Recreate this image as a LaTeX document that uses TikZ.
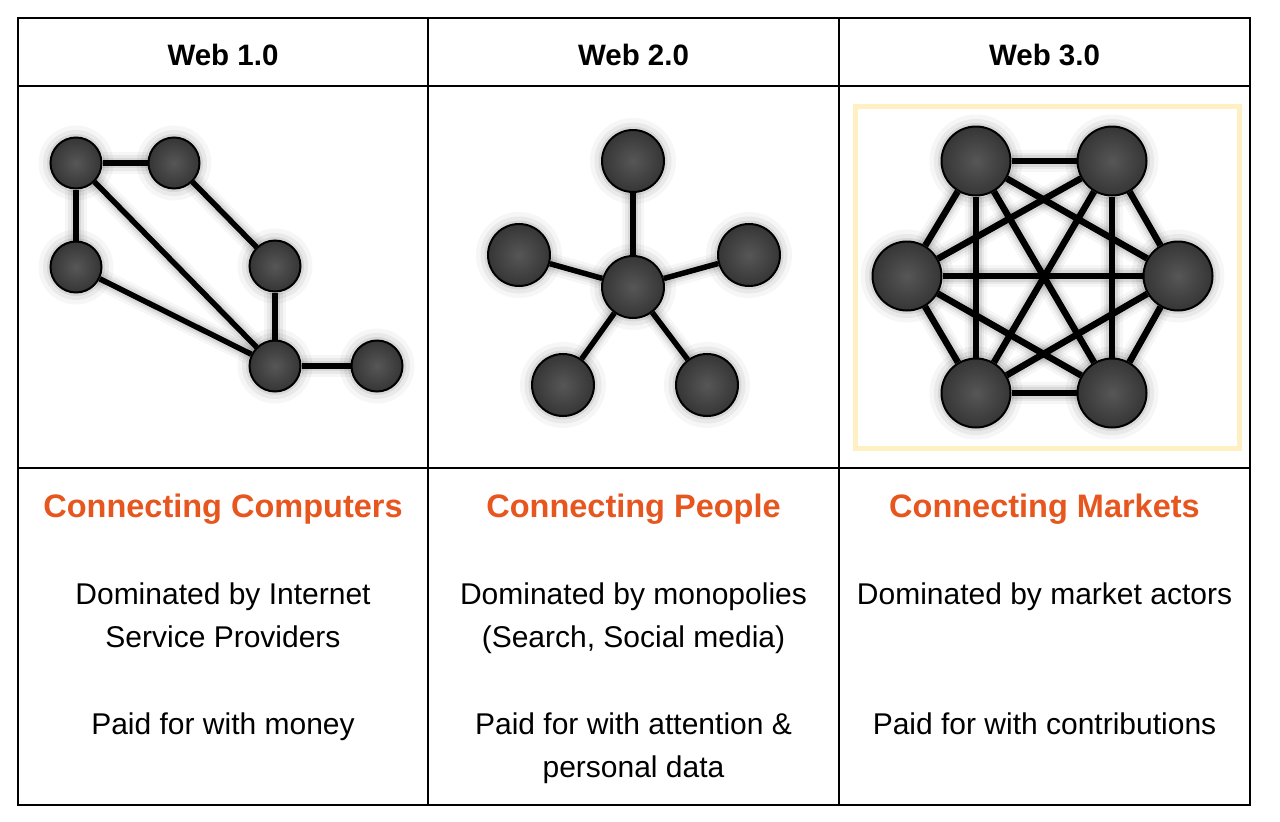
\documentclass[tikz,border=0pt]{standalone}
\usepackage{fontspec}
\setmainfont{Liberation Sans}
\pgfdeclarelayer{bottom}
\pgfdeclarelayer{background}
\pgfsetlayers{bottom,background,main}
\definecolor{orng}{RGB}{230,86,30}
\definecolor{paleyel}{RGB}{255,240,195}
\begin{document}
\begin{tikzpicture}[x=1pt,y=-1pt,
  nd/.style={circle,draw=black,line width=2pt,inner sep=0pt,minimum size=#1,inner color=black!66,outer color=black!79},
  ed/.style={line width=#1,black,
    preaction={draw,line width=#1+5pt,black,opacity=.07},
    preaction={draw,line width=#1+10pt,black,opacity=.05},
    preaction={draw,line width=#1+16pt,black,opacity=.035}},
  hd/.style={anchor=base,font=\fontsize{29.5}{34}\selectfont\bfseries},
  ttl/.style={anchor=base,text=orng,font=\fontsize{32.5}{38}\selectfont\bfseries},
  bd/.style={anchor=base,font=\fontsize{30}{36}\selectfont},
  grid/.style={line width=1.8pt,black}]
\useasboundingbox (0,0) rectangle (1280,822);
\begin{pgfonlayer}{bottom}
  \fill[white] (0,0) rectangle (1280,822);
\end{pgfonlayer}
% table
\draw[grid] (18,18) rectangle (1250,805);
\draw[grid] (428,18) -- (428,805);
\draw[grid] (839,18) -- (839,805);
\draw[grid] (18,86) -- (1250,86);
\draw[grid] (18,468) -- (1250,468);
% headers
\node[hd] (h1) at (223,65) {Web 1.0};
\node[hd] (h2) at (633.5,65) {Web 2.0};
\node[hd] (h3) at (1044.5,65) {Web 3.0};
% Web 1.0 graph
\node[nd=51pt] (a1) at (76,163) {};
\node[nd=51pt] (a2) at (174,163) {};
\node[nd=51pt] (a3) at (76,267) {};
\node[nd=51pt] (a4) at (275,266) {};
\node[nd=51pt] (a5) at (275,366) {};
\node[nd=51pt] (a6) at (377,366) {};
% Web 2.0 graph
\node[nd=62pt] (b0) at (633,287) {};
\node[nd=62pt] (b1) at (633,161) {};
\node[nd=62pt] (b2) at (519,255) {};
\node[nd=62pt] (b3) at (749,255) {};
\node[nd=62pt] (b4) at (563,385) {};
\node[nd=62pt] (b5) at (707,385) {};
% Web 3.0 graph
\begin{pgfonlayer}{bottom}
  \draw[paleyel,line width=5pt] (855.5,106.5) rectangle (1239.5,448.5);
\end{pgfonlayer}
\node[nd=69pt] (c1) at (976,161) {};
\node[nd=69pt] (c2) at (1112,161) {};
\node[nd=69pt] (c3) at (907,276) {};
\node[nd=69pt] (c4) at (1178,276) {};
\node[nd=69pt] (c5) at (976,393) {};
\node[nd=69pt] (c6) at (1112,393) {};
\begin{pgfonlayer}{background}
  \foreach \n/\r in {a1/25.5,a2/25.5,a3/25.5,a4/25.5,a5/25.5,a6/25.5,
                     b0/31,b1/31,b2/31,b3/31,b4/31,b5/31,
                     c1/34.5,c2/34.5,c3/34.5,c4/34.5,c5/34.5,c6/34.5}{
    \fill[black,opacity=.07] (\n.center) circle ({\r+3.5});
    \fill[black,opacity=.05] (\n.center) circle ({\r+7.5});
    \fill[black,opacity=.035] (\n.center) circle ({\r+12});
  }
  \foreach \p/\q in {a1/a2,a1/a3,a1/a5,a2/a4,a4/a5,a3/a5,a5/a6}
    \draw[ed=5.5pt] (\p) -- (\q);
  \foreach \q in {b1,b2,b3,b4,b5}
    \draw[ed=5.5pt] (b0) -- (\q);
  \foreach \p/\q in {c1/c2,c1/c3,c1/c4,c1/c5,c1/c6,c2/c3,c2/c4,c2/c5,c2/c6,
                     c3/c4,c3/c5,c3/c6,c4/c5,c4/c6,c5/c6}
    \draw[ed=6.5pt] (\p) -- (\q);
\end{pgfonlayer}
% titles
\node[ttl] (t1) at (223,517) {Connecting Computers};
\node[ttl] (t2) at (633.5,517) {Connecting People};
\node[ttl] (t3) at (1044.5,517) {Connecting Markets};
% body texts
\node[bd] (d1a) at (223,604) {Dominated by Internet};
\node[bd] (d1b) at (223,647.5) {Service Providers};
\node[bd] (p1a) at (223,734) {Paid for with money};
\node[bd] (d2a) at (633.5,604) {Dominated by monopolies};
\node[bd] (d2b) at (633.5,647.5) {(Search, Social media)};
\node[bd] (p2a) at (633.5,734) {Paid for with attention \&};
\node[bd] (p2b) at (633.5,777) {personal data};
\node[bd] (d3a) at (1044.5,604) {Dominated by market actors};
\node[bd] (p3a) at (1044.5,734) {Paid for with contributions};
\end{tikzpicture}
\end{document}
